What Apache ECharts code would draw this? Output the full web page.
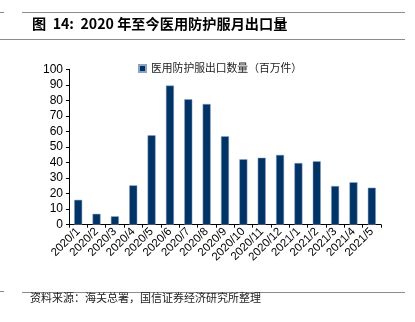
<!DOCTYPE html>
<html><head><meta charset="utf-8">
<script src="https://cdn.jsdelivr.net/npm/echarts@6/dist/echarts.min.js"></script>
<style>html,body{margin:0;padding:0;background:#fff}#c{width:415px;height:322px}</style>
</head><body><div id="c"></div>
<script>
const categories = ['2020/1','2020/2','2020/3','2020/4','2020/5','2020/6','2020/7','2020/8','2020/9','2020/10','2020/11','2020/12','2021/1','2021/2','2021/3','2021/4','2021/5'];
const exportQty = [16, 7, 5.4, 25.3, 57.5, 89.5, 80.7, 77.7, 56.9, 42.1, 43.1, 44.9, 39.7, 40.8, 24.9, 27.3, 23.8];
const yTicks = [0, 10, 20, 30, 40, 50, 60, 70, 80, 90, 100];
const seriesName = '医用防护服出口数量（百万件）';
const titleText = '图  14:  2020 年至今医用防护服月出口量';
const sourceText = '资料来源：海关总署，国信证券经济研究所整理';

const chart = echarts.init(document.getElementById('c'), null, {renderer: 'canvas'});
const lineStyle = {stroke: '#8c8c8c', lineWidth: 1};
chart.setOption({
  animation: false,
  grid: {left: 69, right: 34, top: 69.3, bottom: 97.3, containLabel: false},
  legend: {
    data: [seriesName], left: 133, top: 58, itemWidth: 7, itemHeight: 7, itemGap: 4,
    icon: 'rect',
    textStyle: {fontFamily: 'Noto Sans CJK SC', fontSize: 10.8, color: '#222'}
  },
  xAxis: {
    type: 'category', data: categories,
    axisLine: {lineStyle: {color: '#000', width: 1}},
    axisTick: {show: true, alignWithLabel: false, length: 3, lineStyle: {color: '#000'}},
    axisLabel: {rotate: 45, interval: 0, fontFamily: 'Liberation Sans', fontSize: 11.5, color: '#000', margin: 5}
  },
  yAxis: {
    type: 'value', min: yTicks[0], max: yTicks[yTicks.length - 1], interval: 10,
    axisLine: {show: true, lineStyle: {color: '#000', width: 1}},
    axisTick: {show: true, length: 3, lineStyle: {color: '#000'}},
    splitLine: {show: false},
    axisLabel: {fontFamily: 'Liberation Sans', fontSize: 12, color: '#000', margin: 6}
  },
  series: [{
    name: seriesName, type: 'bar', data: exportQty, barWidth: 8,
    itemStyle: {color: '#003366', borderColor: '#8fa3bf', borderWidth: 0.5}
  }],
  graphic: [
    {type: 'line', shape: {x1: 22, y1: 12.5, x2: 405, y2: 12.5}, style: lineStyle},
    {type: 'line', shape: {x1: 0, y1: 12.5, x2: 4, y2: 12.5}, style: lineStyle},
    {type: 'line', shape: {x1: 0, y1: 39.5, x2: 405, y2: 39.5}, style: lineStyle},
    {type: 'text', left: 32, top: 17, style: {text: titleText, fontFamily: 'Noto Sans CJK SC', fontSize: 14.2, fontWeight: 'bold', fill: '#000'}},
    {type: 'line', shape: {x1: 22, y1: 292.5, x2: 405, y2: 292.5}, style: lineStyle},
    {type: 'line', shape: {x1: 0, y1: 291.5, x2: 4, y2: 291.5}, style: lineStyle},
    {type: 'text', left: 30, top: 292, style: {text: sourceText, fontFamily: 'Noto Sans CJK SC', fontSize: 11, fill: '#222'}}
  ]
});
</script></body></html>
